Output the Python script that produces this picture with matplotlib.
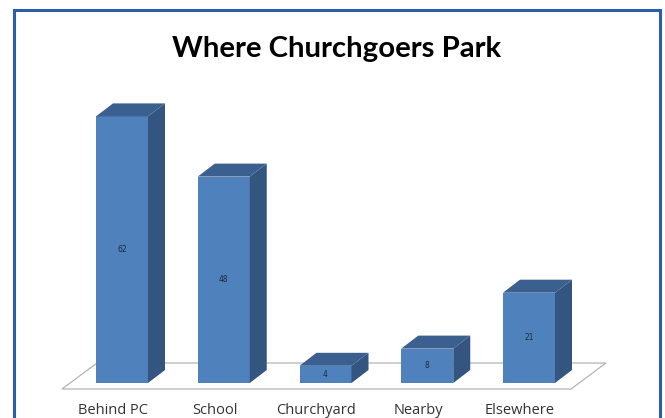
import matplotlib
matplotlib.use('Agg')
import matplotlib.pyplot as plt
from matplotlib.patches import Polygon

categories = ['Behind PC', 'School', 'Churchyard', 'Nearby', 'Elsewhere']
values = [62, 48, 4, 8, 21]

W, H = 665, 418
FRONT = '#4f81bd'
SIDE = '#33557f'
TOP = '#3b5f8e'

# axes fill the figure, limits chosen so that the baseline and bars land in place
px_per_cat = 101.75
px_per_unit = 4.3
x0_px, y0_px = 122, 383
bar_w = 52 / px_per_cat
dx = 17 / px_per_cat
dy = 13 / px_per_unit

fig = plt.figure(figsize=(W / 100, H / 100), dpi=100)
ax = fig.add_axes([0, 0, 1, 1])
ax.set_xlim(-x0_px / px_per_cat, (W - x0_px) / px_per_cat)
ax.set_ylim((y0_px - H) / px_per_unit, y0_px / px_per_unit)
ax.axis('off')

# floor
floor_y_front = (y0_px - 389) / px_per_unit
floor_y_back = (y0_px - 363) / px_per_unit
def cx(p):
    return (p - x0_px) / px_per_cat
ax.add_patch(Polygon([(cx(62), floor_y_front), (cx(571), floor_y_front),
                      (cx(606), floor_y_back), (cx(97), floor_y_back)],
                     closed=True, fc='white', ec='#b4b4b4', lw=0.9, zorder=1))

# bars with fake 3d sides
for i, v in enumerate(values):
    l, r = i - bar_w / 2, i + bar_w / 2
    ax.bar(i, v, width=bar_w, color=FRONT, lw=0, zorder=3)
    ax.add_patch(Polygon([(r, 0), (r + dx, dy), (r + dx, v + dy), (r, v)],
                         closed=True, fc=SIDE, ec='none', zorder=3))
    ax.add_patch(Polygon([(l, v), (r, v), (r + dx, v + dy), (l + dx, v + dy)],
                         closed=True, fc=TOP, ec='none', zorder=3))
    ax.text(i, v / 2, str(v), ha='center', va='center', fontsize=5.5,
            color='#1f2a3a', zorder=4)
    ax.text(i - 0.09, -30.5 / px_per_unit, categories[i], ha='center', va='baseline',
            fontsize=10.5, family='Open Sans', color='#333333', zorder=4)

fig.text(336.5 / W, 1 - 57 / H, 'Where Churchgoers Park', ha='center', va='baseline',
         fontsize=21.2, fontweight='bold', family='Lato', color='black')

# blue frame runs off the bottom of the picture
frame_x = [14, 14, 660, 660]
frame_y = [H + 5, 10, 10, H + 5]
ax.plot([cx(p) for p in frame_x], [(y0_px - p) / px_per_unit for p in frame_y],
        color='#2c5dab', lw=2.2, zorder=5, solid_joinstyle='miter')

fig.savefig('out.png', dpi=100)
